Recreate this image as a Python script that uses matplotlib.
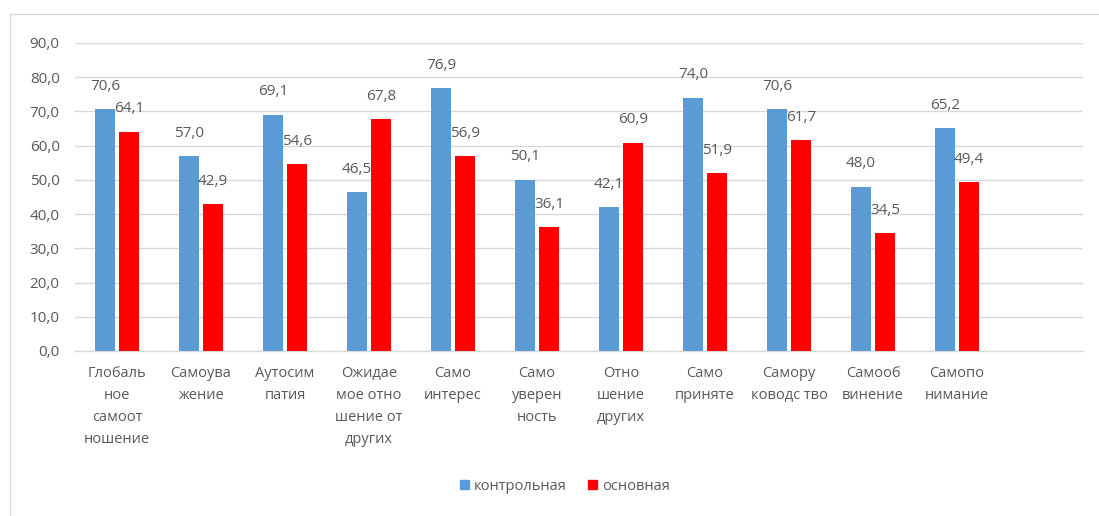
import matplotlib
matplotlib.use("Agg")
import matplotlib.pyplot as plt
import numpy as np
from matplotlib.lines import Line2D
from matplotlib.patches import Patch

categories = ["Глобаль\nное\nсамоот\nношение", "Самоува\nжение", "Аутосим\nпатия",
              "Ожидае\nмое отно\nшение от\nдругих", "Само\nинтерес", "Само\nуверен\nность",
              "Отно\nшение\nдругих", "Само\nприняте", "Самору\nководс тво",
              "Самооб\nвинение", "Самопо\nнимание"]
control = [70.6, 57.0, 69.1, 46.5, 76.9, 50.1, 42.1, 74.0, 70.6, 48.0, 65.2]
main = [64.1, 42.9, 54.6, 67.8, 56.9, 36.1, 60.9, 51.9, 61.7, 34.5, 49.4]
series_names = ["контрольная", "основная"]
yticks = [0, 10, 20, 30, 40, 50, 60, 70, 80, 90]

BLUE = "#5B9BD5"
RED = "#FF0000"
TXT = "#595959"
GRID = "#D9D9D9"
plt.rcParams['font.family'] = ['Open Sans', 'DejaVu Sans']
FS = 10.5
FSN = 11

W, H = 1099, 516
fig = plt.figure(figsize=(W / 100, H / 100), dpi=100)
ax = fig.add_axes([75 / W, 1 - 351 / H, (1083 - 75) / W, (351 - 43) / H])

n_slots = len(categories) + 1
x = np.arange(len(categories))
bw = 0.23
off = 0.144
b1 = ax.bar(x - off, control, bw, color=BLUE, zorder=3)
b2 = ax.bar(x + off, main, bw, color=RED, zorder=3)

for bars, vals in ((b1, control), (b2, main)):
    for r, v in zip(bars, vals):
        ax.annotate(f"{v:.1f}".replace(".", ","),
                    (r.get_x() + r.get_width() / 2, v),
                    xytext=(0, 11), textcoords="offset points",
                    ha="center", va="bottom", fontsize=FSN, color=TXT)

ax.set_xlim(-0.5, n_slots - 0.5)
ax.set_ylim(0, 90)
ax.set_yticks(yticks)
ax.set_yticklabels([f"{t:.1f}".replace(".", ",") for t in yticks], fontsize=FSN, color=TXT)
ax.set_xticks(x)
ax.set_xticklabels(categories, fontsize=FS, color=TXT, linespacing=1.64, va="top")
ax.tick_params(axis="both", length=0)
ax.tick_params(axis="x", pad=11)
ax.tick_params(axis="y", pad=11)
ax.grid(axis="y", color=GRID, linewidth=1, zorder=0)
for s in ["top", "right", "left"]:
    ax.spines[s].set_visible(False)
ax.spines["bottom"].set_color(GRID)
ax.spines["bottom"].set_linewidth(1)

handles = [Patch(color=BLUE), Patch(color=RED)]
fig.legend(handles, series_names, loc="center", bbox_to_anchor=(565 / W, 1 - 486 / H),
           ncol=2, frameon=False, fontsize=FS, handlelength=0.6, handleheight=0.6,
           handletextpad=0.35, columnspacing=1.5, labelcolor=TXT)

# chart area border
fig.add_artist(Line2D([10 / W, 1], [1 - 14 / H, 1 - 14 / H], color=GRID, lw=1))
fig.add_artist(Line2D([10 / W, 10 / W], [0, 1 - 14 / H], color=GRID, lw=1))

fig.savefig("out.png", dpi=100)
